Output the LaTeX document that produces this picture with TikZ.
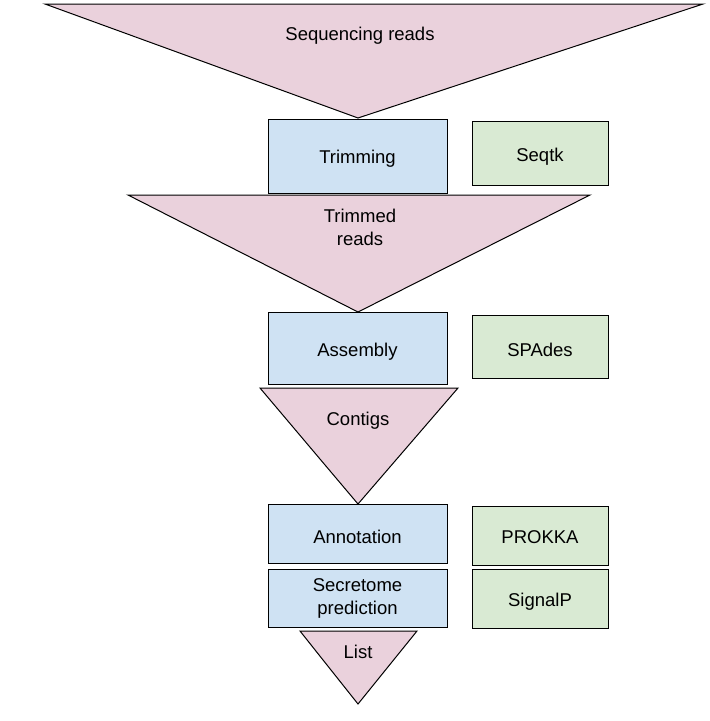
\documentclass[tikz,border=0pt]{standalone}
\usepackage{fontspec}
\setmainfont{Liberation Sans}
\definecolor{pinkf}{HTML}{EAD1DC}
\definecolor{bluef}{HTML}{CFE2F3}
\definecolor{greenf}{HTML}{D9EAD3}
\begin{document}
\begin{tikzpicture}[x=1pt,y=-1pt,
  tri/.style={fill=pinkf,draw=black,line width=1pt,line join=miter},
  procbox/.style={fill=bluef,draw=black,line width=1pt},
  toolbox/.style={fill=greenf,draw=black,line width=1pt},
  lbl/.style={font=\fontsize{18.5}{23}\selectfont,align=center,inner sep=0pt}]
\useasboundingbox (0,0) rectangle (710,721);
% triangles
\draw[tri] (45,4) -- (703,4) -- (358,118) -- cycle;
\node[lbl] (t1) at (360,36) {Sequencing reads};
\draw[tri] (128,195) -- (590,195) -- (358,312) -- cycle;
\node[lbl] (t2) at (360,227) {Trimmed\\reads};
\draw[tri] (260,388) -- (458,388) -- (358,504) -- cycle;
\node[lbl] (t3) at (358,421) {Contigs};
\draw[tri] (300,631) -- (417,631) -- (358,704) -- cycle;
\node[lbl] (t4) at (358,652) {List};
% process boxes
\draw[procbox] (268,119) rectangle (447,193);
\node[lbl] (trim) at (357.5,159) {Trimming};
\draw[procbox] (268,312) rectangle (447,384);
\node[lbl] (asm) at (357.5,352) {Assembly};
\draw[procbox] (268,504) rectangle (447,563);
\node[lbl] (ann) at (357.5,537) {Annotation};
\draw[procbox] (268,569) rectangle (447,627);
\node[lbl] (sec) at (357.5,598) {Secretome\\prediction};
% tool boxes
\draw[toolbox] (472,121) rectangle (608,185);
\node[lbl] (seqtk) at (540,157) {Seqtk};
\draw[toolbox] (472,315) rectangle (608,378);
\node[lbl] (spades) at (540,350) {SPAdes};
\draw[toolbox] (472,506) rectangle (608,565);
\node[lbl] (prokka) at (540,537) {PROKKA};
\draw[toolbox] (472,569) rectangle (608,628);
\node[lbl] (signalp) at (540,602) {SignalP};
\end{tikzpicture}
\end{document}
